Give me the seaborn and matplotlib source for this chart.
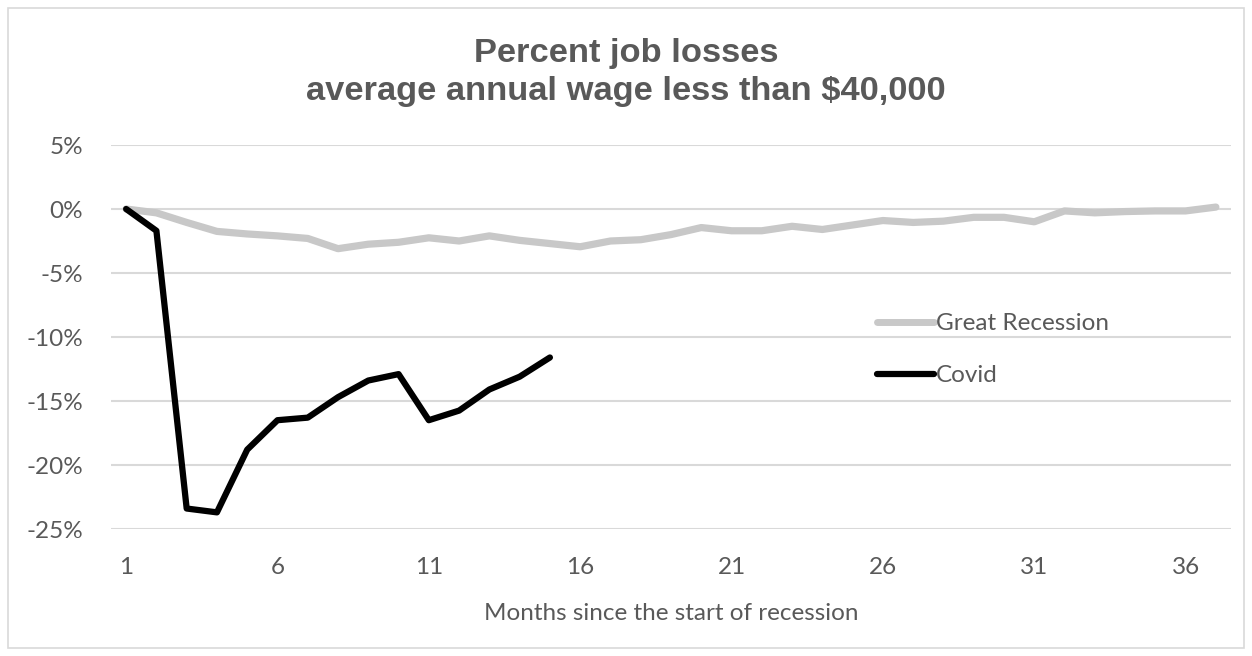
import matplotlib
matplotlib.use("Agg")
import matplotlib.pyplot as plt
import matplotlib.patches as mpatches
import numpy as np
import pandas as pd
import seaborn as sns

# Monthly job losses (% change since the start of each recession)
great_recession = [0.0, -0.3, -1.05, -1.75, -1.95, -2.1, -2.3, -3.1, -2.75, -2.6,
                   -2.25, -2.5, -2.1, -2.45, -2.7, -2.95, -2.5, -2.4, -2.0, -1.45,
                   -1.7, -1.7, -1.35, -1.6, -1.25, -0.9, -1.05, -0.95, -0.65, -0.65,
                   -1.0, -0.15, -0.3, -0.2, -0.15, -0.15, 0.15]
covid = [0.0, -1.7, -23.4, -23.7, -18.8, -16.5, -16.3, -14.7, -13.4, -12.9,
         -16.5, -15.75, -14.1, -13.1, -11.6]
series_names = ["Great Recession", "Covid"]
x_ticks = [1, 6, 11, 16, 21, 26, 31, 36]
y_ticks = [5, 0, -5, -10, -15, -20, -25]

df = pd.concat([
    pd.DataFrame({"month": np.arange(1, len(great_recession) + 1),
                  "pct": great_recession, "series": series_names[0]}),
    pd.DataFrame({"month": np.arange(1, len(covid) + 1),
                  "pct": covid, "series": series_names[1]}),
])

sns.set_theme(style="white")
plt.rcParams["font.family"] = ["Lato", "DejaVu Sans"]

text_color = "#595959"
grid_color = "#d9d9d9"
label_size = 17.5

fig = plt.figure(figsize=(12.52, 6.56), dpi=100)
ax = fig.add_axes([111 / 1252, 1 - 529 / 656, 1120 / 1252, 384 / 656])

# light frame around the whole chart
fig.patches.append(mpatches.Rectangle((8 / 1252, 8 / 656), 1236 / 1252, 640 / 656,
                                      transform=fig.transFigure, fill=False,
                                      edgecolor="#d9d9d9", linewidth=1.2))

for yt in y_ticks:
    ax.axhline(yt, color=grid_color, linewidth=1.5, zorder=0)

palette = {"Great Recession": "#c8c8c8", "Covid": "#000000"}
sns.lineplot(data=df, x="month", y="pct", hue="series", palette=palette,
             hue_order=series_names, ax=ax, linewidth=5, legend=False,
             sort=False)
for line, lw in zip(ax.get_lines()[-2:], [5.2, 4.5]):
    line.set_linewidth(lw)
    line.set_solid_capstyle("round")
    line.set_solid_joinstyle("round")

ax.set_xlim(0.5, 37.5)
ax.set_ylim(-25, 5)
ax.set_xticks(x_ticks)
ax.set_xticklabels([str(t) for t in x_ticks])
ax.set_yticks(y_ticks)
ax.set_yticklabels([f"{t}%" for t in y_ticks])
ax.tick_params(axis="both", length=0, labelsize=label_size, labelcolor=text_color)
ax.tick_params(axis="x", pad=20.5)
ax.tick_params(axis="y", pad=20)
for s in ax.spines.values():
    s.set_visible(False)

ax.set_xlabel("Months since the start of recession", fontsize=label_size,
              color=text_color, labelpad=17.5)
ax.set_ylabel("")

fig.text(0.5, 1 - 62 / 656, "Percent job losses", ha="center", va="baseline",
         fontsize=24.8, fontweight="bold", color=text_color,
         family="Liberation Sans")
fig.text(0.5, 1 - 100 / 656, "average annual wage less than $40,000", ha="center",
         va="baseline", fontsize=24.8, fontweight="bold", color=text_color,
         family="Liberation Sans")

handles = [plt.Line2D([], [], color=palette[n], linewidth=5 if i == 0 else 4.5,
                      solid_capstyle="round") for i, n in enumerate(series_names)]
leg = ax.legend(handles, series_names, loc="upper left",
                bbox_to_anchor=((877 - 111) / 1120, (529 - 313) / 384),
                frameon=False, fontsize=label_size, handlelength=2.35,
                handletextpad=0.08, labelspacing=1.28, borderpad=0,
                borderaxespad=0)
for t in leg.get_texts():
    t.set_color(text_color)

fig.savefig("out.png", dpi=100)
